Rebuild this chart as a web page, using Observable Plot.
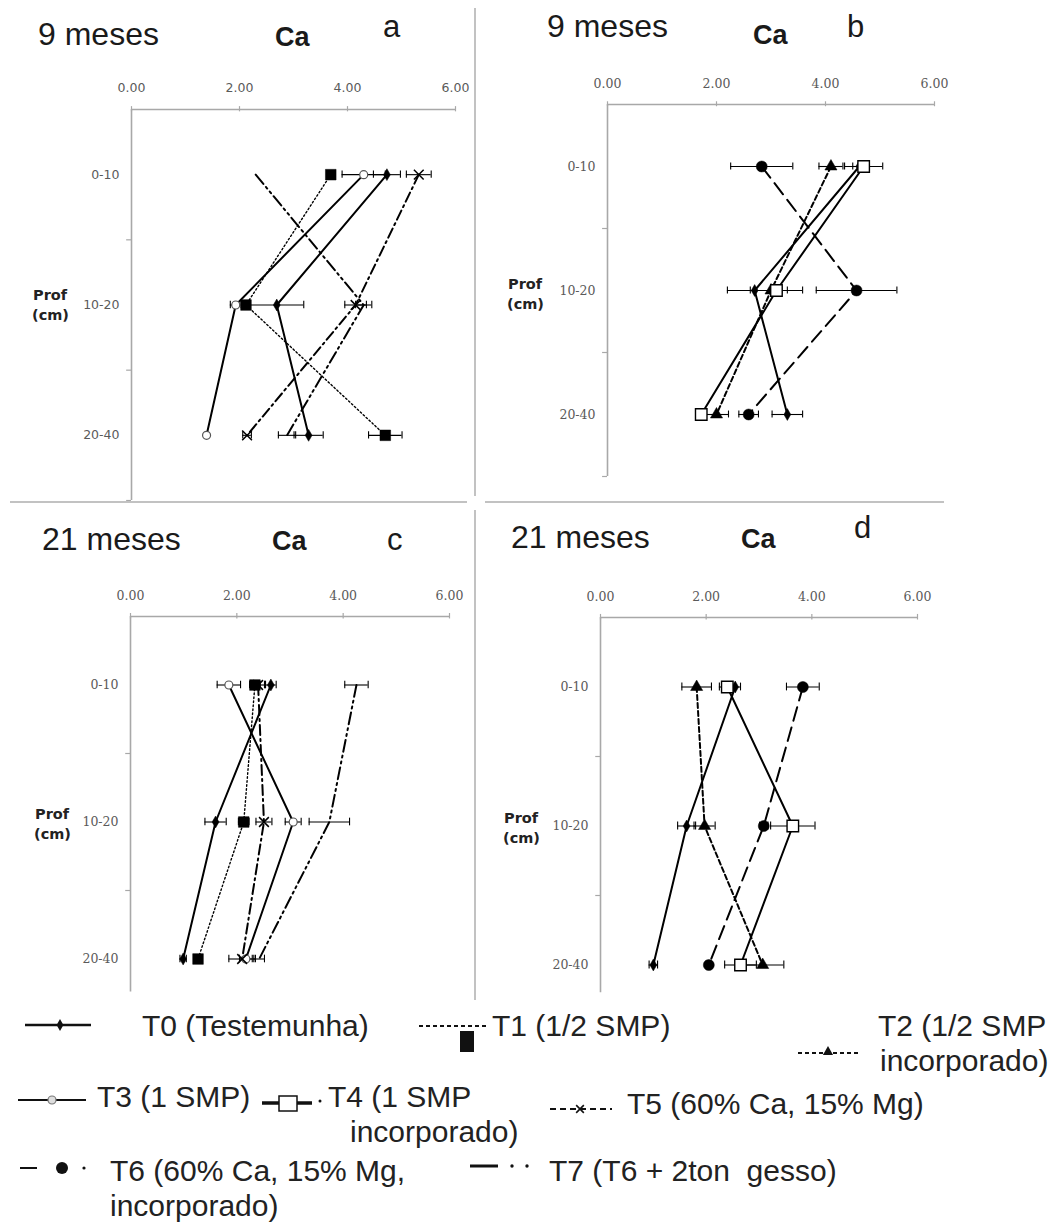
<!DOCTYPE html>
<html><head><meta charset="utf-8">
<script src="https://cdn.jsdelivr.net/npm/d3@7"></script>
<script src="https://cdn.jsdelivr.net/npm/@observablehq/plot@0.6"></script>
<style>
body{margin:0;background:#fff;}
#wrap{position:relative;width:1061px;height:1229px;overflow:hidden;background:#fff;}
</style></head><body><div id="wrap"></div>
<script>
// ---------- data ----------
const depths = ["0-10", "10-20", "20-40"];
const xTicks = [0, 2, 4, 6];

// panel a (9 meses)
const a_T0 = [4.73, 2.69, 3.28], a_T0_err = [0.25, 0.50, 0.27];
const a_T1 = [3.69, 2.12, 4.70], a_T1_err = [0, 0, 0.31];
const a_T3 = [4.30, 1.93, 1.39], a_T3_err = [0.40, 0.10, 0];
const a_T5 = [5.32, 4.15, 2.14], a_T5_err = [0.23, 0.20, 0.08];
const a_T7 = [2.30, 4.30, 2.88], a_T7_err = [0, 0.15, 0.16];

// panel b (9 meses)
const b_T0 = [4.62, 2.70, 3.30], b_T0_err = [0.12, 0.50, 0.28];
const b_T2 = [4.10, 3.00, 2.00], b_T2_err = [0.22, 0.30, 0.22];
const b_T4 = [4.70, 3.10, 1.72], b_T4_err = [0.35, 0.48, 0.05];
const b_T6 = [2.83, 4.57, 2.59], b_T6_err = [0.57, 0.74, 0.18];

// panel c (21 meses)
const c_T0 = [2.64, 1.60, 0.99], c_T0_err = [0.10, 0.20, 0.06];
const c_T1 = [2.34, 2.13, 1.27], c_T1_err = [0.10, 0.10, 0.05];
const c_T3 = [1.85, 3.06, 2.17], c_T3_err = [0.22, 0.15, 0.12];
const c_T5 = [2.40, 2.51, 2.10], c_T5_err = [0.12, 0.15, 0.25];
const c_T7 = [4.25, 3.74, 2.42], c_T7_err = [0.22, 0.38, 0.10];

// panel d (21 meses)
const d_T0 = [2.55, 1.63, 1.00], d_T0_err = [0.10, 0.17, 0.08];
const d_T2 = [1.82, 1.97, 3.07], d_T2_err = [0.28, 0.20, 0.40];
const d_T4 = [2.40, 3.64, 2.65], d_T4_err = [0.15, 0.42, 0.30];
const d_T6 = [3.83, 3.09, 2.05], d_T6_err = [0.31, 0.08, 0.05];

const legendIds = ["T0", "T1", "T2", "T3", "T4", "T5", "T6", "T7"];
const legendText = [
  ["T0 (Testemunha)"],
  ["T1 (1/2 SMP)"],
  ["T2 (1/2 SMP", "incorporado)"],
  ["T3 (1 SMP)"],
  ["T4 (1 SMP", "incorporado)"],
  ["T5 (60% Ca, 15% Mg)"],
  ["T6 (60% Ca, 15% Mg,", "incorporado)"],
  ["T7 (T6 + 2ton  gesso)"]
];

// ---------- styles ----------
const AX = "#a8a8a8";
const sty = {
  T0: {dash: null, w: 2, sym: "diamond", r: 3.6, fill: "black", stroke: "black", sw: 0.5},
  T1: {dash: "1.6,2.4", w: 1.4, sym: "square", r: 6, fill: "black", stroke: "black", sw: 0.5},
  T2: {dash: "5,3", w: 2, sym: "triangle", r: 4.5, fill: "black", stroke: "black", sw: 0.5},
  T3: {dash: null, w: 2, sym: "circle", r: 4, fill: "white", stroke: "#555", sw: 1.2},
  T4: {dash: null, w: 2, sym: "square", r: 6.5, fill: "white", stroke: "black", sw: 1.4},
  T5: {dash: "10,4,2,4", w: 2, sym: "times", r: 4.5, fill: "none", stroke: "black", sw: 1.5},
  T6: {dash: "14,7", w: 2, sym: "circle", r: 5.5, fill: "black", stroke: "black", sw: 0.5},
  T7: {dash: "12,4,2,4,2,4", w: 2, sym: null}
};

const wrap = document.getElementById("wrap");

function panel(cfg, list) {
  const rows = list.flatMap(([id, vals, errs]) =>
    depths.map((d, i) => ({s: id, depth: d, yi: i + 0.5, v: vals[i], e: errs[i]})));
  const errRows = rows.filter(r => r.e > 0);
  const marks = [
    Plot.ruleY([0], {x1: 0, x2: 6, stroke: AX, strokeWidth: 1.5}),
    Plot.ruleX(xTicks, {x: d => d, y1: -0.022, y2: 0.018, stroke: AX, strokeWidth: 1.2}),
    Plot.ruleX([0], {x: d => d, y1: 0, y2: cfg.axisEnd, stroke: AX, strokeWidth: 1.6}),
    Plot.ruleY(cfg.bounds, {y: d => d, x1: -0.09, x2: 0, stroke: AX, strokeWidth: 1.2}),
    Plot.axisX({anchor: "top", ticks: xTicks, tickFormat: d => d.toFixed(2), tickSize: 0,
      tickPadding: cfg.xPad, fontSize: 12.5, label: null}),
    Plot.axisY({anchor: "left", ticks: [0.5, 1.5, 2.5], tickFormat: d => depths[Math.floor(d)],
      tickSize: 0, tickPadding: 12, fontSize: 12.5, label: null})
  ];
  for (const [id] of list) {
    const st = sty[id];
    marks.push(Plot.line(rows.filter(r => r.s === id), {x: "v", y: "yi", stroke: "black",
      strokeWidth: st.w, strokeDasharray: st.dash, strokeLinejoin: "miter"}));
  }
  marks.push(Plot.ruleY(errRows, {y: "yi", x1: d => d.v - d.e, x2: d => d.v + d.e, stroke: "black", strokeWidth: 1.1}));
  marks.push(Plot.ruleX(errRows, {x: d => d.v - d.e, y1: d => d.yi - 0.028, y2: d => d.yi + 0.028, stroke: "black", strokeWidth: 1.1}));
  marks.push(Plot.ruleX(errRows, {x: d => d.v + d.e, y1: d => d.yi - 0.028, y2: d => d.yi + 0.028, stroke: "black", strokeWidth: 1.1}));
  for (const [id] of list) {
    const st = sty[id];
    if (!st.sym) continue;
    marks.push(Plot.dot(rows.filter(r => r.s === id), {x: "v", y: "yi", symbol: st.sym, r: st.r,
      fill: st.fill, stroke: st.stroke, strokeWidth: st.sw}));
  }
  const svg = Plot.plot({
    width: cfg.width, height: cfg.height,
    marginLeft: cfg.mL, marginRight: cfg.mR, marginTop: cfg.mT, marginBottom: cfg.mB,
    x: {domain: [0, 6]},
    y: {domain: [0, 3], reverse: true},
    style: {background: "transparent", overflow: "visible", color: "#5a5a5a", fontFamily: cfg.font},
    marks
  });
  svg.style.position = "absolute";
  svg.style.left = cfg.left + "px";
  svg.style.top = cfg.top + "px";
  svg.style.maxWidth = "none";
  wrap.appendChild(svg);
}

// panel a: x 0->131, 6->455 ; y axis 109..500
panel({left: 0, top: 60, width: 475, height: 445, mL: 131, mR: 20, mT: 49, mB: 5,
  axisEnd: 3, bounds: [1, 2, 3], xPad: 18, font: "DejaVu Sans"},
  [["T0", a_T0, a_T0_err], ["T1", a_T1, a_T1_err], ["T3", a_T3, a_T3_err], ["T5", a_T5, a_T5_err], ["T7", a_T7, a_T7_err]]);
// panel b: x 0->607, 6->934 ; y 104..476
panel({left: 480, top: 55, width: 474, height: 426, mL: 127, mR: 20, mT: 49, mB: 5,
  axisEnd: 3, bounds: [1, 2, 3], xPad: 17, font: "DejaVu Serif"},
  [["T0", b_T0, b_T0_err], ["T2", b_T2, b_T2_err], ["T4", b_T4, b_T4_err], ["T6", b_T6, b_T6_err]]);
// panel c: x 0->130, 6->449 ; y 616..1027
panel({left: 0, top: 565, width: 469, height: 462, mL: 130, mR: 20, mT: 51, mB: 0,
  axisEnd: 2.74, bounds: [1, 2], xPad: 17, font: "DejaVu Serif"},
  [["T0", c_T0, c_T0_err], ["T1", c_T1, c_T1_err], ["T3", c_T3, c_T3_err], ["T5", c_T5, c_T5_err], ["T7", c_T7, c_T7_err]]);
// panel d: x 0->600, 6->917 ; y 617..1034
panel({left: 480, top: 565, width: 457, height: 469, mL: 120, mR: 20, mT: 52, mB: 0,
  axisEnd: 2.70, bounds: [1, 2], xPad: 17, font: "DejaVu Serif"},
  [["T0", d_T0, d_T0_err], ["T2", d_T2, d_T2_err], ["T4", d_T4, d_T4_err], ["T6", d_T6, d_T6_err]]);

// ---------- overlay: dividers, titles, labels, legend ----------
const ov = d3.select(wrap).append("svg")
  .attr("width", 1061).attr("height", 1229)
  .style("position", "absolute").style("left", 0).style("top", 0)
  .style("pointer-events", "none")
  .style("font-family", "'Liberation Sans', Arial, sans-serif");

const div = (x1, y1, x2, y2) => ov.append("line").attr("x1", x1).attr("y1", y1).attr("x2", x2).attr("y2", y2)
  .attr("stroke", "#c2c2c2").attr("stroke-width", 2);
div(475, 8, 475, 496); div(475, 510, 475, 1000);
div(10, 502, 467, 502); div(485, 502, 944, 502);

const txt = (s, x, y, size, opts = {}) => ov.append("text").attr("x", x).attr("y", y)
  .attr("font-size", size).attr("fill", opts.fill || "#1a1a1a")
  .attr("font-weight", opts.bold ? "bold" : null)
  .attr("font-family", opts.font || null)
  .style("white-space", "pre").text(s);

// titles
const titles = [
  ["9 meses", 38, 45, "a", 383, 37, 275, 46],
  ["9 meses", 547, 37, "b", 847, 37, 753, 44],
  ["21 meses", 42, 550, "c", 387, 550, 272, 550],
  ["21 meses", 511, 548, "d", 854, 538, 741, 548]
];
for (const [t, tx, ty, l, lx, ly, cx, cy] of titles) {
  txt(t, tx, ty, 32);
  txt("Ca", cx, cy, 27, {bold: true});
  txt(l, lx, ly, 31);
}
// Prof (cm)
for (const [x, y] of [[33, 300], [508, 289], [35, 819], [504, 823]]) {
  txt("Prof", x, y, 14.5, {bold: true, font: "DejaVu Sans", fill: "#222"});
  txt("(cm)", x - 1, y + 20, 14.5, {bold: true, font: "DejaVu Sans", fill: "#222"});
}

// legend
const LG = ov.append("g");
const hl = (x1, x2, y, w, dash) => LG.append("line").attr("x1", x1).attr("x2", x2).attr("y1", y).attr("y2", y)
  .attr("stroke", "#111").attr("stroke-width", w).attr("stroke-dasharray", dash || null);
const sym = (type, x, y, size, fill, stroke, sw) => LG.append("path")
  .attr("d", d3.symbol(type, size)()).attr("transform", `translate(${x},${y})`)
  .attr("fill", fill).attr("stroke", stroke || "none").attr("stroke-width", sw || 0);
// T0
hl(25, 91, 1025, 2.5); sym(d3.symbolDiamond, 60, 1025, 40, "#111");
// T1
hl(419, 489, 1026, 2, "4,3"); LG.append("rect").attr("x", 460).attr("y", 1031).attr("width", 14).attr("height", 21).attr("fill", "#111");
// T2
hl(798, 859, 1053, 2, "4,3"); sym(d3.symbolTriangle, 828, 1052, 45, "#111");
// T3
hl(18, 86, 1100, 2); LG.append("circle").attr("cx", 52).attr("cy", 1100).attr("r", 4).attr("fill", "#ddd").attr("stroke", "#777").attr("stroke-width", 1.2);
// T4
hl(262, 312, 1103, 3.5); LG.append("rect").attr("x", 279).attr("y", 1096).attr("width", 18).attr("height", 15).attr("fill", "white").attr("stroke", "#111").attr("stroke-width", 1.5);
LG.append("circle").attr("cx", 320).attr("cy", 1101).attr("r", 1.5).attr("fill", "#111");
// T5
hl(550, 612, 1109, 2, "6,4"); sym(d3.symbolX, 580, 1109, 40, "none", "#111", 1.6);
// T6
hl(20, 37, 1168, 2); LG.append("circle").attr("cx", 62).attr("cy", 1168).attr("r", 6).attr("fill", "#111");
LG.append("circle").attr("cx", 84).attr("cy", 1168).attr("r", 1.6).attr("fill", "#111");
// T7
hl(470, 498, 1166, 3); LG.append("circle").attr("cx", 512).attr("cy", 1166).attr("r", 1.7).attr("fill", "#111");
LG.append("circle").attr("cx", 527).attr("cy", 1166).attr("r", 1.7).attr("fill", "#111");

const legendPos = [
  [[142, 1036]],
  [[492, 1036]],
  [[878, 1036], [880, 1071]],
  [[97, 1107]],
  [[328, 1107], [350, 1142]],
  [[627, 1114]],
  [[110, 1181], [110, 1216]],
  [[549, 1181]]
];
legendIds.forEach((id, i) => {
  legendText[i].forEach((line, j) => {
    const [x, y] = legendPos[i][j];
    txt(line, x, y, 30, {fill: "#222"});
  });
});
</script>
</body></html>
